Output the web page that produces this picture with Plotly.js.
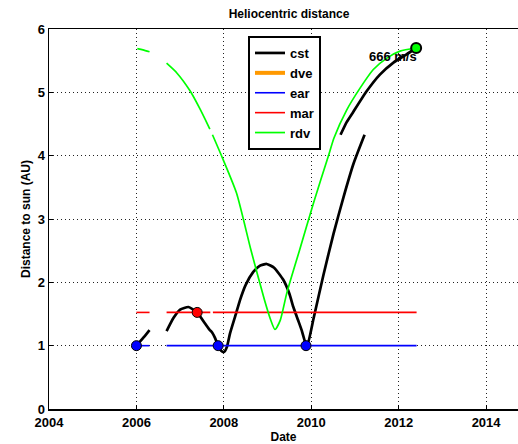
<!DOCTYPE html>
<html>
<head>
<meta charset="utf-8">
<script src="https://cdn.plot.ly/plotly-3.0.1.min.js"></script>
<style>html,body{margin:0;padding:0;background:#fff;}#chart{width:518px;height:444px;}</style>
</head>
<body>
<div id="chart"></div>
<script>
// cst (black)
const cstX = [2006.0, 2006.1, 2006.2, 2006.3, null,
  2006.69, 2006.85, 2007.0, 2007.19, 2007.39, 2007.57, 2007.68, 2007.72, 2007.80, 2007.87, 2007.94, 2008.0, 2008.07, 2008.14, 2008.28, 2008.37, 2008.5, 2008.67, 2008.82, 2008.98, 2009.15, 2009.36, 2009.5, 2009.59, 2009.7, 2009.78, 2009.9, 2010.05, 2010.28, 2010.51, 2010.74, 2010.97, 2011.22, null,
  2010.67, 2010.81, 2010.96, 2011.27, 2011.57, 2011.88, 2012.18, 2012.40];
const cstY = [1.0, 1.08, 1.16, 1.245, null,
  1.23, 1.44, 1.57, 1.61, 1.525, 1.35, 1.245, 1.22, 1.12, 1.0, 0.92, 0.90, 0.98, 1.19, 1.51, 1.72, 1.96, 2.16, 2.26, 2.29, 2.23, 2.04, 1.82, 1.61, 1.40, 1.245, 0.98, 1.42, 2.12, 2.77, 3.35, 3.88, 4.33, null,
  4.33, 4.53, 4.69, 5.02, 5.28, 5.47, 5.60, 5.70];
// dve (orange, no data shown)
const dveX = [null];
const dveY = [null];
// ear (blue)
const earX = [2006.0, 2006.3, null, 2006.69, 2012.41];
const earY = [1.0, 1.0, null, 1.0, 1.0];
// mar (red)
const marX = [2006.0, 2006.3, null, 2006.69, 2007.69, null, 2007.75, 2012.41];
const marY = [1.525, 1.525, null, 1.525, 1.525, null, 1.525, 1.525];
// rdv (green)
const rdvX = [2006.02, 2006.15, 2006.30, null,
  2006.69, 2006.92, 2007.23, 2007.46, 2007.68, null,
  2007.74, 2007.97, 2008.29, 2008.62, 2008.93, 2009.06, 2009.17, 2009.29, 2009.44, 2009.72, 2010.05, 2010.39, 2010.52, 2010.81, 2011.12, 2011.42, 2011.73, 2012.03, 2012.40];
const rdvY = [5.69, 5.67, 5.64, null,
  5.46, 5.31, 5.02, 4.73, 4.42, null,
  4.33, 3.96, 3.41, 2.51, 1.72, 1.43, 1.256, 1.40, 1.83, 2.48, 3.25, 3.99, 4.28, 4.72, 5.07, 5.36, 5.54, 5.65, 5.70];
// event markers
const earEventX = [2006.0, 2007.87, 2009.88];
const earEventY = [1.0, 1.0, 1.0];
const marEventX = [2007.39];
const marEventY = [1.525];
const rdvEventX = [2012.40];
const rdvEventY = [5.70];
const speedLabel = '666 m/s';
const speedLabelX = 2011.87;
const speedLabelY = 5.57;
const xTicks = [2004, 2006, 2008, 2010, 2012, 2014];
const yTicks = [0, 1, 2, 3, 4, 5, 6];

const FONT = 'Liberation Sans, Arial, sans-serif';
const traces = [
  {x: cstX, y: cstY, name: 'cst', mode: 'lines', line: {color: '#000000', width: 2.7, shape: 'spline', smoothing: 0.5}},
  {x: dveX, y: dveY, name: 'dve', mode: 'lines', line: {color: '#FF9900', width: 4}},
  {x: earX, y: earY, name: 'ear', mode: 'lines', line: {color: '#0000FF', width: 1.6}},
  {x: marX, y: marY, name: 'mar', mode: 'lines', line: {color: '#FF0000', width: 1.6}},
  {x: rdvX, y: rdvY, name: 'rdv', mode: 'lines', line: {color: '#00FF00', width: 1.7, shape: 'spline', smoothing: 0.6}},
  {x: earEventX, y: earEventY, mode: 'markers', showlegend: false, marker: {color: '#0000FF', size: 10, line: {color: '#000', width: 1}}},
  {x: marEventX, y: marEventY, mode: 'markers', showlegend: false, marker: {color: '#FF0000', size: 10, line: {color: '#000', width: 1}}},
  {x: rdvEventX, y: rdvEventY, mode: 'markers', showlegend: false, marker: {color: '#00FF00', size: 10, line: {color: '#000', width: 2}}}
];

const layout = {
  width: 518, height: 444,
  margin: {l: 49, r: 0, t: 29, b: 35, pad: 0},
  paper_bgcolor: '#fff', plot_bgcolor: '#fff',
  font: {family: FONT, size: 13, color: '#000', weight: 'bold'},
  title: {text: 'Heliocentric distance', font: {size: 12, family: FONT, weight: 'bold'}, x: 289/518, xref: 'container', xanchor: 'center', y: 1 - 14/444, yref: 'container', yanchor: 'middle'},
  xaxis: {
    range: [2004, 2014.73], tickvals: xTicks, ticktext: xTicks.map(String),
    showline: true, linecolor: '#000', linewidth: 1.5, mirror: true,
    showgrid: true, gridcolor: '#222', griddash: '1px,3px', gridwidth: 1,
    zeroline: false, ticks: 'inside', ticklen: 4, tickcolor: '#000',
    ticklabelstandoff: 1,
    tickfont: {size: 13, family: FONT, weight: 'bold'},
    title: {text: 'Date', font: {size: 12, family: FONT, weight: 'bold'}, standoff: 1}
  },
  yaxis: {
    range: [0, 6], tickvals: yTicks,
    showline: true, linecolor: '#000', linewidth: 1.5,
    showgrid: true, gridcolor: '#222', griddash: '1px,3px', gridwidth: 1,
    zeroline: false, ticks: 'inside', ticklen: 4, tickcolor: '#000',
    tickfont: {size: 13, family: FONT, weight: 'bold'},
    title: {text: 'Distance to sun (AU)', font: {size: 12, family: FONT, weight: 'bold'}, standoff: 4}
  },
  legend: {x: (248-49)/469, xanchor: 'left', y: 1 - (36-29)/380, yanchor: 'top',
    bgcolor: '#fff', bordercolor: '#000', borderwidth: 2,
    font: {size: 13, family: FONT, weight: 'bold'}, tracegroupgap: 0},
  annotations: [{x: speedLabelX, y: speedLabelY, xref: 'x', yref: 'y', text: speedLabel, showarrow: false,
    font: {size: 13, family: FONT, weight: 'bold', color: '#000'}, xanchor: 'center', yanchor: 'middle'}],
  showlegend: true
};

Plotly.newPlot('chart', traces, layout, {staticPlot: true, displayModeBar: false});
</script>
</body>
</html>
